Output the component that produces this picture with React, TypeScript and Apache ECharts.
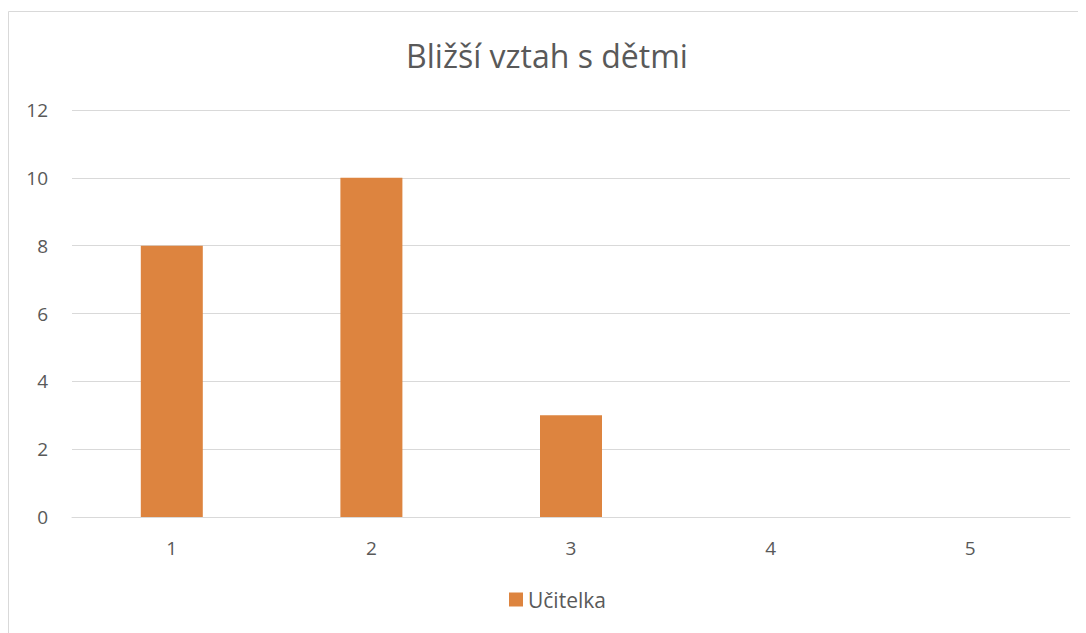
import React, { useEffect, useRef } from "react";
import * as echarts from "echarts";

const categories = ["1", "2", "3", "4", "5"];
const ucitelka = [8, 10, 3, 0, 0];
const seriesName = "Učitelka";
const title = "Bližší vztah s dětmi";

const FONT = "Open Sans";

export default function App() {
  const ref = useRef<HTMLDivElement>(null);
  useEffect(() => {
    const chart = echarts.init(ref.current!, null, { renderer: "svg" });
    chart.setOption({
      animation: false,
      textStyle: { fontFamily: FONT },
      title: {
        text: title,
        left: "center",
        top: 26,
        textStyle: { fontFamily: FONT, fontSize: 32, fontWeight: "normal", color: "#595959" },
      },
      graphic: [
        {
          type: "rect",
          shape: { x: 0.5, y: 3.5, width: 1200, height: 800 },
          style: { fill: "none", stroke: "#d9d9d9", lineWidth: 1 },
          silent: true,
          z: -1,
        },
      ],
      legend: {
        data: [seriesName],
        bottom: 18,
        left: 496,
        itemWidth: 14,
        itemHeight: 14,
        itemGap: 6,
        icon: "rect",
        textStyle: { fontFamily: FONT, fontSize: 21, color: "#595959" },
      },
      grid: { left: 64, right: 16, top: 102, bottom: 116, containLabel: false },
      xAxis: {
        type: "category",
        data: categories,
        axisLine: { lineStyle: { color: "#d9d9d9" } },
        axisTick: { show: false },
        axisLabel: { fontFamily: FONT, fontSize: 19, color: "#595959", margin: 21 },
      },
      yAxis: {
        type: "value",
        min: 0,
        max: 12,
        interval: 2,
        axisLine: { show: false },
        axisTick: { show: false },
        splitLine: { lineStyle: { color: "#d9d9d9" } },
        axisLabel: { fontFamily: FONT, fontSize: 19, color: "#595959", margin: 24 },
      },
      series: [
        {
          name: seriesName,
          type: "bar",
          data: ucitelka,
          barWidth: 62,
          itemStyle: { color: "#DD843F" },
        },
      ],
    });
    return () => chart.dispose();
  }, []);
  return <div ref={ref} style={{ width: 1078, height: 625 }} />;
}
